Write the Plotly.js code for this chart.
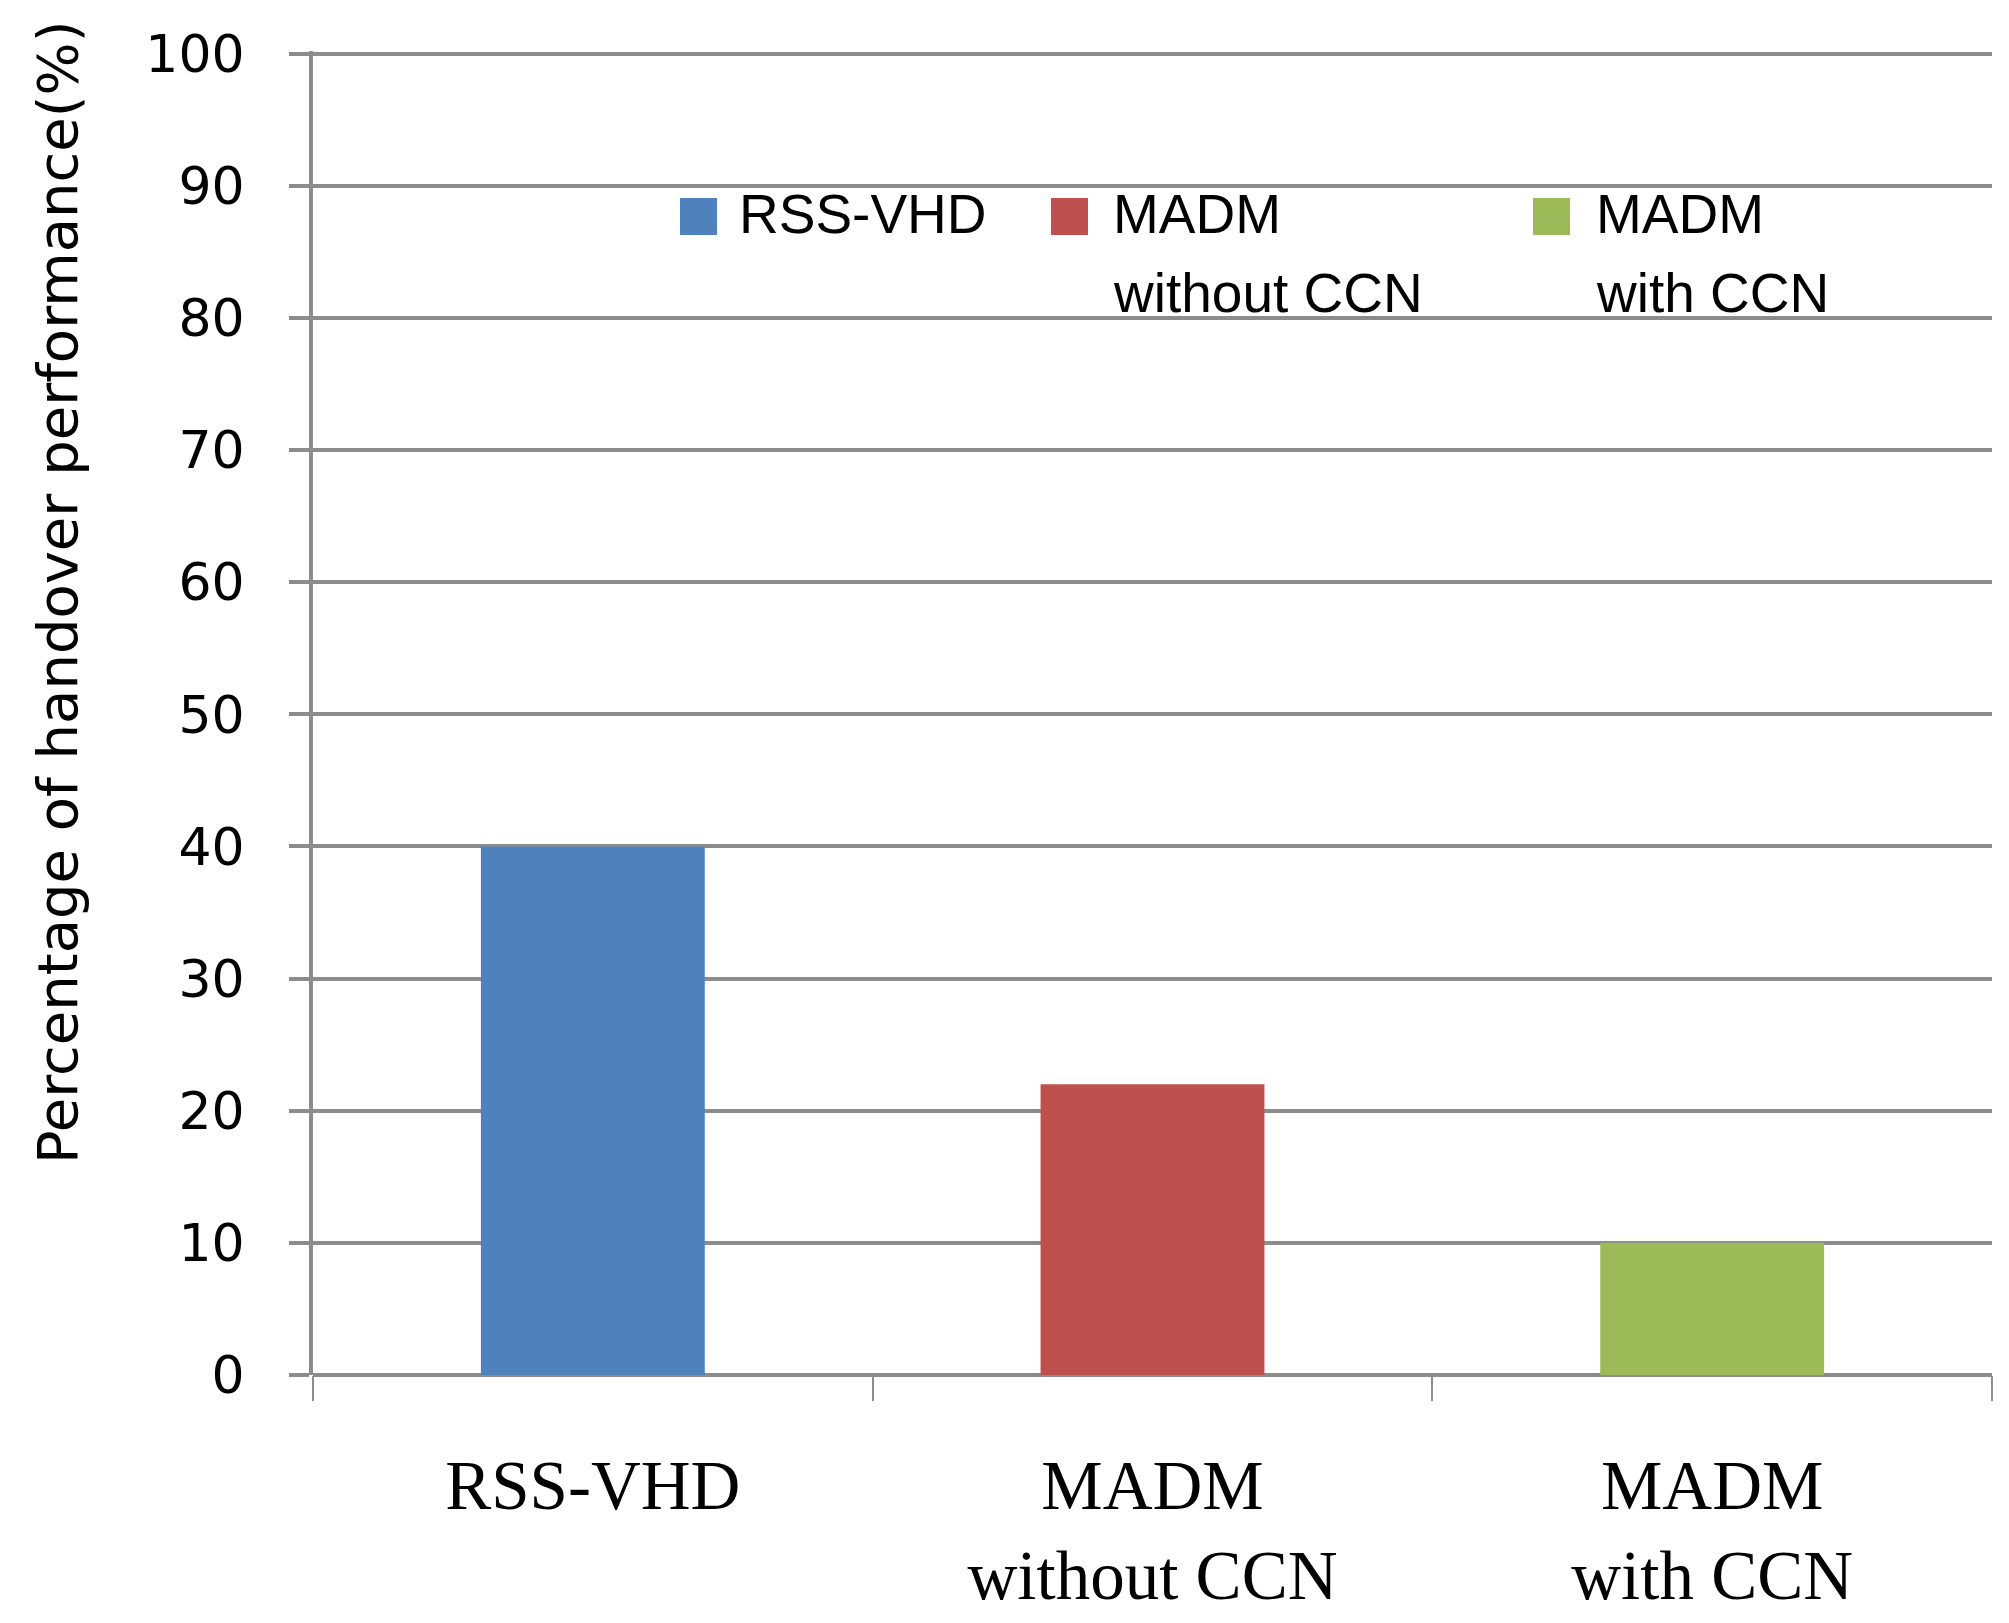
<!DOCTYPE html>
<html>
<head>
<meta charset="utf-8">
<script src="https://cdn.plot.ly/plotly-3.0.1.min.js"></script>
<style>
  html, body { margin: 0; padding: 0; background: #ffffff; }
  #chart { width: 2009px; height: 1623px; }
</style>
</head>
<body>
<div id="chart"></div>
<script>
// data
const categories = ["RSS-VHD", "MADM<br>without CCN", "MADM<br>with CCN"];
const legendNames = ["RSS-VHD", "MADM<br>without CCN", "MADM<br>with CCN"];
const values = [40, 22, 10];
const barColors = ["#4f81bd", "#c0504d", "#9bbb59"];
const yTicks = [0, 10, 20, 30, 40, 50, 60, 70, 80, 90, 100];

const W = 2009, H = 1623;
const M = { l: 313, r: 17, t: 51, b: 248 };
const plotW = W - M.l - M.r;
const plotH = H - M.t - M.b;

// pixel position -> paper coords (only used for the legend block)
function px(x) { return (x - M.l) / plotW; }
function py(y) { return (H - M.b - y) / plotH; }

const gridColor = "#8c8c8c";

const bars = {
    x: categories,
    y: values,
    type: "bar",
    width: 0.4,
    marker: { color: barColors, line: { width: 0 } },
    hoverinfo: "x+y",
    showlegend: false
};

// legend drawn by hand, Excel style: square swatch + (multi-line) name
const swatchLeft = [680, 1051, 1533];
const textLeft = [737, 1111, 1594];
const lineMid = [214, 293];
let shapes = [];
let annotations = [];
for (let i = 0; i < legendNames.length; i++) {
    shapes.push({
        type: "rect", xref: "paper", yref: "paper",
        x0: px(swatchLeft[i]), x1: px(swatchLeft[i] + 37),
        y0: py(235), y1: py(198),
        fillcolor: barColors[i], line: { width: 0 }
    });
    let lines = legendNames[i].split("<br>");
    for (let j = 0; j < lines.length; j++) {
        annotations.push({
            xref: "paper", yref: "paper",
            x: px(textLeft[i]), y: py(lineMid[j]),
            xanchor: "left", yanchor: "middle", align: "left",
            showarrow: false,
            text: lines[j],
            font: { family: "Liberation Sans, Arial, sans-serif", size: 55, color: "#000000" }
        });
    }
}
annotations.push({
    xref: "paper", yref: "paper",
    x: px(58), y: py(592),
    xanchor: "center", yanchor: "middle",
    textangle: -90, showarrow: false,
    text: "Percentage of handover performance(%)",
    font: { family: "DejaVu Sans, Verdana, sans-serif", size: 56, color: "#000000" }
});

const layout = {
    width: W,
    height: H,
    margin: M,
    paper_bgcolor: "#ffffff",
    plot_bgcolor: "#ffffff",
    showlegend: false,
    xaxis: {
        type: "category",
        range: [-0.5, 2.5],
        showgrid: false,
        showline: false,
        zeroline: false,
        ticks: "outside",
        tickson: "boundaries",
        ticklen: 25,
        tickwidth: 2,
        tickcolor: gridColor,
        ticklabelstandoff: 64,
        tickfont: { family: "Liberation Serif, Times New Roman, serif", size: 69, color: "#000000" }
    },
    yaxis: {
        range: [0, 100.2],
        tickvals: yTicks,
        ticktext: yTicks.map(String),
        showgrid: true,
        gridcolor: gridColor,
        gridwidth: 4,
        zeroline: true,
        zerolinecolor: gridColor,
        zerolinewidth: 4,
        showline: true,
        linecolor: gridColor,
        linewidth: 4,
        ticks: "outside",
        ticklen: 20,
        tickwidth: 4,
        tickcolor: gridColor,
        ticklabelstandoff: 34,
        tickfont: { family: "DejaVu Sans, Verdana, sans-serif", size: 52, color: "#000000" }
    },
    shapes: shapes,
    annotations: annotations
};

Plotly.newPlot("chart", [bars], layout, { displayModeBar: false, staticPlot: true });
</script>
</body>
</html>
